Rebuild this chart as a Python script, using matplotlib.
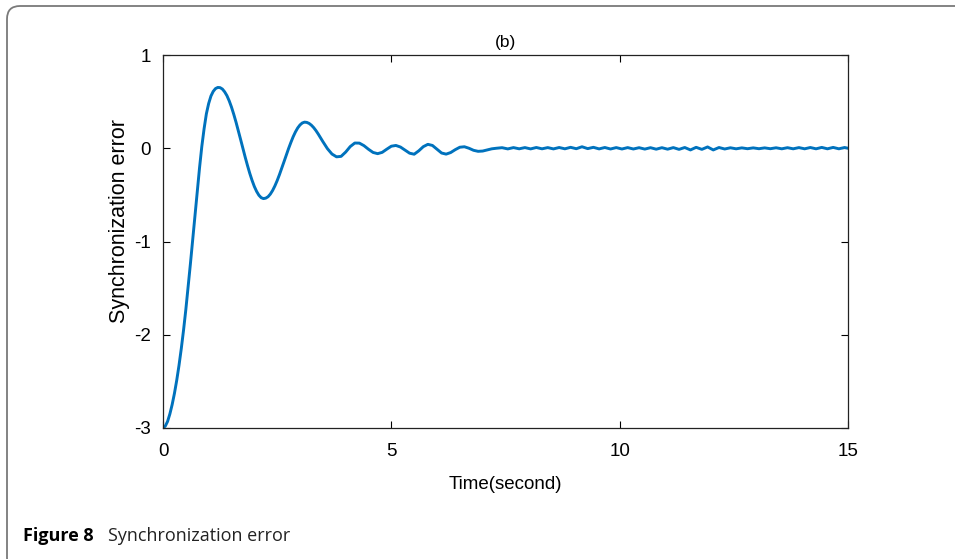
import numpy as np
import matplotlib
matplotlib.use("Agg")
import matplotlib.pyplot as plt
from matplotlib.patches import FancyBboxPatch
from matplotlib.transforms import IdentityTransform

plt.rcParams['axes.unicode_minus'] = False

# ---- data ----
# first part of the transient, sampled every 0.05 s from 0 to 3.4 s
t_fine = np.round(np.arange(0, 3.41, 0.05), 2)
err_fine = [
    -3.00, -2.98, -2.93, -2.85, -2.75, -2.63, -2.49, -2.33, -2.15, -1.95,
    -1.73, -1.49, -1.24, -0.98, -0.72, -0.46, -0.21, 0.02, 0.21, 0.37,
    0.48, 0.56, 0.61, 0.64, 0.652, 0.650, 0.635, 0.605, 0.564, 0.508,
    0.441, 0.363, 0.278, 0.187, 0.093, -0.002, -0.096, -0.185, -0.269, -0.344,
    -0.410, -0.463, -0.504, -0.530, -0.540, -0.535, -0.520, -0.492, -0.453, -0.404,
    -0.347, -0.283, -0.215, -0.144, -0.073, -0.003, 0.062, 0.123, 0.175, 0.218,
    0.250, 0.271, 0.280, 0.277, 0.266, 0.247, 0.221, 0.189, 0.152,
]
# later transient, sampled every 0.1 s from 3.5 to 7.3 s
t_coarse = np.round(np.arange(3.5, 7.31, 0.1), 2)
err_coarse = [
    0.072, -0.004, -0.062, -0.092, -0.087, -0.041, 0.018, 0.056, 0.055, 0.028,
    -0.011, -0.045, -0.058, -0.044, -0.010, 0.022, 0.030, 0.013, -0.020, -0.053,
    -0.064, -0.028, 0.017, 0.042, 0.030, -0.011, -0.051, -0.063, -0.046, -0.015,
    0.011, 0.016, 0.000, -0.022, -0.033, -0.030, -0.018, -0.006, 0.000,
]
# small residual ripples, extrema every 0.125 s after 7.3 s
t_ripple = 7.3 + 0.125 * np.arange(1, 63)
err_ripple = [
    0.006, -0.007, 0.007, -0.006, 0.007, -0.007, 0.008, -0.006, 0.007, -0.007,
    0.008, -0.006, 0.010, -0.005, 0.016, -0.004, 0.010, -0.007, 0.008, -0.008,
    0.007, -0.008, 0.007, -0.008, 0.006, -0.009, 0.006, -0.010, 0.006, -0.010,
    0.007, -0.012, 0.008, -0.018, 0.010, -0.012, 0.014, -0.018, 0.008, -0.008,
    0.005, -0.006, 0.004, -0.005, 0.004, -0.005, 0.004, -0.005, 0.005, -0.006,
    0.006, -0.006, 0.007, -0.006, 0.008, -0.006, 0.009, -0.006, 0.009, -0.006,
    0.008, -0.005,
]
x_ticks = [0, 5, 10, 15]
y_ticks = [-3, -2, -1, 0, 1]

time = np.concatenate([t_fine, t_coarse, t_ripple])
error = np.concatenate([err_fine, err_coarse, err_ripple])

fig = plt.figure(figsize=(9.55, 5.59), dpi=100)
fig.patch.set_facecolor('white')

# rounded frame around the figure (extends past right / bottom edges)
frame = FancyBboxPatch((7, -12), 975, 565,
                       boxstyle="round,pad=0,rounding_size=13",
                       transform=IdentityTransform(), fill=False,
                       edgecolor='#7a7a7a', linewidth=1.3, clip_on=False)
fig.add_artist(frame)

ax = fig.add_axes([163 / 955, 1 - 428 / 559, (848 - 163) / 955, (428 - 55) / 559])
ax.plot(time, error, color='#0072BD', linewidth=2.1, clip_on=True,
        solid_joinstyle='round')

ax.set_xlim(0, 15)
ax.set_ylim(-3, 1)
ax.set_xticks(x_ticks)
ax.set_yticks(y_ticks)
ax.set_xticklabels([str(v) for v in x_ticks])
ax.set_yticklabels([str(v) for v in y_ticks])

lab_font = dict(family=['Liberation Sans', 'DejaVu Sans'])
for lbl in ax.get_xticklabels() + ax.get_yticklabels():
    lbl.set_fontfamily(['Liberation Sans', 'DejaVu Sans'])
    lbl.set_fontsize(13.5)

ax.tick_params(direction='in', top=True, right=True, length=5, width=0.8,
               colors='black')
ax.tick_params(axis='x', pad=11)
ax.tick_params(axis='y', pad=9)
for s in ax.spines.values():
    s.set_linewidth(0.9)
    s.set_color('#222222')

ax.set_xlabel('Time(second)', fontsize=13.5, labelpad=11, **lab_font)
ax.set_ylabel('Synchronization error', fontsize=15.5, **lab_font)
ax.yaxis.set_label_coords(-0.048, 0.555)
ax.set_title('(b)', fontsize=12.5, pad=6, **lab_font)

# caption
fig.text(23 / 955, 1 - 536 / 559, 'Figure 8', fontsize=13, fontweight='bold',
         family=['Open Sans', 'DejaVu Sans'], va='center', ha='left')
fig.text(108 / 955, 1 - 536 / 559, 'Synchronization error', fontsize=13,
         family=['Open Sans', 'DejaVu Sans'], va='center', ha='left',
         color='#222222')

fig.savefig('out.png', dpi=100, facecolor='white')
